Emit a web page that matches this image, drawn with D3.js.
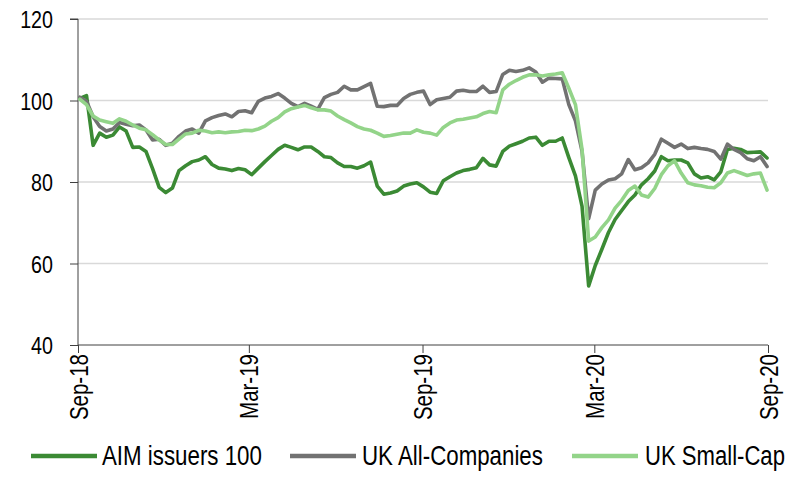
<!DOCTYPE html>
<html>
<head>
<meta charset="utf-8">
<script src="https://cdn.jsdelivr.net/npm/d3@7"></script>
<style>
  html, body { margin: 0; padding: 0; background: #fff; }
  svg { display: block; }
  text { font-family: "Liberation Sans", Arial, sans-serif; fill: #000; }
</style>
</head>
<body>
<div id="chart"></div>
<script>
// ---- data (weekly, Mondays from 3 Sep 2018 to 31 Aug 2020) ----
const seriesNames = ["AIM issuers 100", "UK All-Companies", "UK Small-Cap"];
const seriesColors = ["#3b8a34", "#727272", "#93d489"];
const yTicks = [40, 60, 80, 100, 120];
const xTickLabels = ["Sep-18", "Mar-19", "Sep-19", "Mar-20", "Sep-20"];

const aim = [100.5,101.2,89,92,91,91.5,93.5,92.5,88.5,88.6,
  87.5,83.3,78.7,77.4,78.5,82.8,84,85,85.4,86.2,
  84.3,83.4,83.2,82.8,83.3,83,81.8,83.4,85,86.5,
  88,89,88.5,87.9,88.6,88.6,87.5,86.2,86,84.7,
  83.8,83.8,83.4,84,84.9,79,77,77.3,77.8,79,
  79.5,79.8,78.8,77.5,77.2,80.3,81.3,82.2,82.8,83.1,
  83.5,85.8,84.2,83.9,87.5,88.8,89.4,90,90.8,91,
  89,90,90,90.8,86,81.5,74,54.5,59.5,63.5,
  67.6,70.8,73,75.2,76.8,79.3,80.8,82.7,86.2,85.2,
  85.4,85.4,84.7,82,81,81.3,80.5,82.5,88,88.3,
  88,87.2,87.3,87.4,85.9];
const ukAll = [100.8,99.8,96,93.6,92.5,93,94.6,94.2,93.8,94,
  92.8,90.3,90.5,89,89.5,91.2,92.5,93,92,95,
  95.8,96.3,96.7,96,97.3,97.5,97,99.8,100.6,101,
  101.7,100.6,99.3,98.5,99.3,98.6,97.8,100.7,101.5,102,
  103.5,102.6,102.6,103.4,104.2,98.6,98.5,98.8,98.8,100.5,
  101.5,102,102.3,99,100.2,100.5,100.8,102.3,102.5,102.2,
  102.2,103.5,102,102.2,106.4,107.4,107.1,107.4,108,107,
  104.5,105.5,105.4,105.3,99,95,87.5,71,78,79.5,
  80.5,80.8,82,85.5,83,83.5,84.7,86.8,90.5,89.5,
  88.5,89.3,88.2,88.5,88.2,88,87.5,85.6,89.3,88,
  87.2,85.7,85.2,86.2,83.8];
const ukSmall = [100.3,99,96.2,95.2,94.8,94.4,95.5,94.9,94,93.2,
  92.8,91.6,90.3,89.2,89.2,90.5,91.8,92,92.7,92.5,
  92.1,92.3,92.1,92.3,92.4,92.7,92.6,93,93.7,94.9,
  95.8,97.2,98,98.4,98.8,98.2,97.7,97.7,97.4,96.2,
  95.3,94.5,93.6,93,92.7,92,91.2,91.4,91.7,92,
  92,92.8,92.2,92,91.5,93.4,94.5,95.2,95.4,95.7,
  96,96.8,97.3,97,102.6,104,104.9,105.7,106.3,106.3,
  106,106.3,106.5,106.8,103,99,88,65.5,66.5,68.8,
  70.7,73.6,75.5,77.9,79,76.8,76.3,78.4,81.8,84,
  85.2,82.2,79.8,79.3,79.1,78.7,78.6,79.8,82.2,82.8,
  82.2,81.6,82,82.2,78];

const dates = d3.timeMonday.range(new Date(2018, 8, 3), new Date(2020, 8, 1));
const seriesValues = [aim, ukAll, ukSmall];

// ---- layout ----
const W = 800, H = 495;
const margin = {left: 78, right: 32, top: 19, bottom: 150};
const NARROW = 0.82; // horizontal squeeze to mimic a narrow face

const svg = d3.select("#chart").append("svg").attr("width", W).attr("height", H);

const x = d3.scaleTime()
  .domain([new Date(2018, 8, 1), new Date(2020, 8, 1)])
  .range([margin.left, W - margin.right]);
const y = d3.scaleLinear().domain([40, 120]).range([H - margin.bottom, margin.top]);

const xTickDates = xTickLabels.map(s => d3.timeParse("%b-%y")(s));

// gridlines
svg.append("g").selectAll("line")
  .data(yTicks.filter(v => v > 40))
  .join("line")
  .attr("x1", x.range()[0]).attr("x2", x.range()[1])
  .attr("y1", d => y(d)).attr("y2", d => y(d))
  .attr("stroke", "#d9d9d9").attr("stroke-width", 1.3);

// y axis
const yAxis = svg.append("g")
  .attr("transform", `translate(${margin.left},0)`)
  .call(d3.axisLeft(y).tickValues(yTicks).tickSize(8).tickFormat(d3.format("d")));
yAxis.select(".domain").attr("stroke", "#404040").attr("d", `M-8,${y(120)}H0V${y(40)}`);
yAxis.selectAll(".tick line").attr("stroke", "#404040");
yAxis.selectAll(".tick text")
  .attr("font-size", 24).attr("fill", "#000")
  .style("font-family", '"Liberation Sans", Arial, sans-serif')
  .attr("text-anchor", "end")
  .attr("x", -25 / NARROW)
  .attr("dy", "0.36em")
  .attr("transform", `scale(${NARROW},1)`);

// x axis
const xAxis = svg.append("g")
  .attr("transform", `translate(0,${y(40)})`)
  .call(d3.axisBottom(x).tickValues(xTickDates).tickSize(8).tickFormat(d3.timeFormat("%b-%y")));
xAxis.select(".domain").attr("stroke", "#404040").attr("d", `M${x.range()[0]},0H${x.range()[1]}`);
xAxis.selectAll(".tick line").attr("stroke", "#404040");
xAxis.selectAll(".tick text")
  .attr("font-size", 25).attr("fill", "#000")
  .style("font-family", '"Liberation Sans", Arial, sans-serif')
  .attr("text-anchor", "end")
  .attr("transform", `rotate(-90) scale(${NARROW},1)`)
  .attr("x", -9 / NARROW).attr("y", 0).attr("dy", "0.36em");

// lines
const line = d3.line().x((d, i) => x(dates[i])).y(d => y(d)).curve(d3.curveLinear);
svg.append("g").selectAll("path")
  .data(seriesValues)
  .join("path")
  .attr("d", d => line(d))
  .attr("fill", "none")
  .attr("stroke", (d, i) => seriesColors[i])
  .attr("stroke-width", 3.6)
  .attr("stroke-linejoin", "round")
  .attr("stroke-linecap", "round");

// legend
const legendItems = [
  {x1: 31, x2: 97, tx: 102, w: 160},
  {x1: 290, x2: 356, tx: 362, w: 181},
  {x1: 572, x2: 638, tx: 645, w: 140}
];
const lg = svg.append("g");
seriesNames.forEach((name, i) => {
  const p = legendItems[i];
  lg.append("line").attr("x1", p.x1).attr("x2", p.x2).attr("y1", 456).attr("y2", 456)
    .attr("stroke", seriesColors[i]).attr("stroke-width", 4.5);
  const t = lg.append("text").attr("x", 0).attr("y", 0).attr("dy", "0.35em")
    .attr("font-size", 27).text(name);
  const len = t.node().getComputedTextLength();
  t.attr("transform", `translate(${p.tx},456) scale(${p.w / len},1)`);
});
</script>
</body>
</html>
